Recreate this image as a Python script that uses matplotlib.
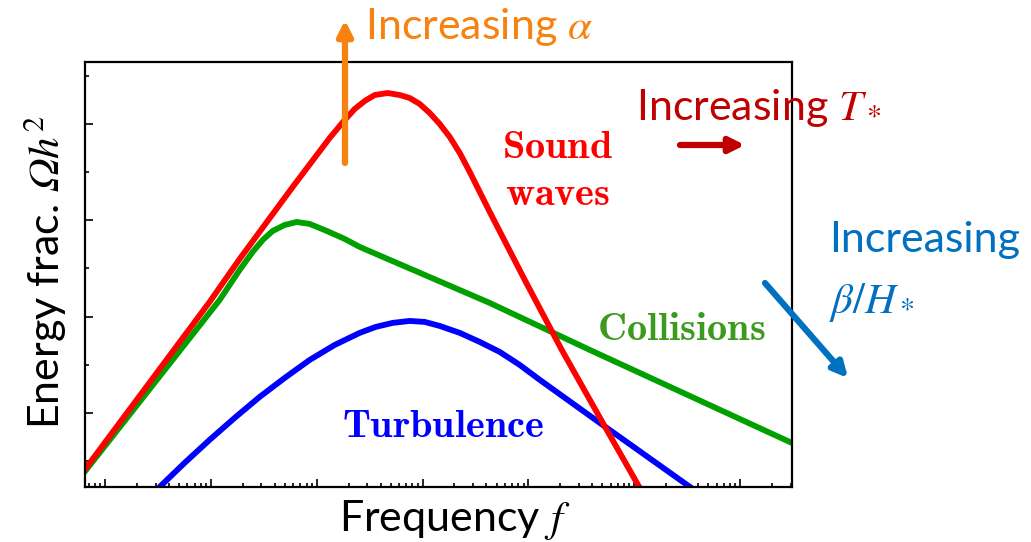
import numpy as np
import matplotlib
matplotlib.use("Agg")
import matplotlib.pyplot as plt
from matplotlib.patches import FancyArrowPatch

plt.rcParams['mathtext.fontset'] = 'cm'

# frequency (log axis, arbitrary units) and log10 of energy fraction
f_sound = [0.640, 9.72, 18.67, 59.2, 132.4, 183.5, 228.1, 283.7, 352.6, 468.0, 607.6, 755.2, 938.9,
           1167, 1451, 1804, 2243, 2787, 3465, 4308, 9226, 20640, 50390, 125700]
y_sound = [-0.592, 1.153, 1.599, 2.347, 2.856, 3.043, 3.157, 3.240, 3.302, 3.323, 3.302, 3.271, 3.209,
           3.115, 3.001, 2.866, 2.700, 2.503, 2.295, 2.087, 1.381, 0.654, -0.104, -0.872]

f_coll = [0.640, 12.08, 18.67, 24.79, 30.81, 38.31, 49.73, 64.57, 85.70, 124.1, 183.5, 254.4,
          4308, 37960, 3.08e6]
y_coll = [-0.613, 1.173, 1.485, 1.672, 1.796, 1.890, 1.952, 1.983, 1.963, 1.890, 1.807, 1.724,
          1.142, 0.654, -0.312]

f_turb = [2.937, 5.642, 9.72, 16.75, 28.86, 49.73, 85.70, 147.7, 254.4, 360.4, 521.9, 755.2, 1047,
          1451, 2243, 3465, 5355, 8277, 12790, 47200, 389900]
y_turb = [-0.820, -0.519, -0.280, -0.052, 0.166, 0.363, 0.550, 0.706, 0.831, 0.893, 0.935, 0.955, 0.945,
          0.903, 0.831, 0.737, 0.633, 0.498, 0.343, -0.104, -0.820]

W, H = 1031, 542
fig = plt.figure(figsize=(W / 100, H / 100), dpi=100)
ax = fig.add_axes([85 / W, 1 - 487 / H, (792 - 85) / W, (487 - 62) / H])

ax.plot(f_coll, y_coll, color='#00a000', lw=4.2, solid_joinstyle='round')
ax.plot(f_turb, y_turb, color='#0000ff', lw=4.2, solid_joinstyle='round')
ax.plot(f_sound, y_sound, color='#ff0000', lw=4.2, solid_joinstyle='round')

ax.set_xscale('log')
ax.set_xticks([10.0 ** k for k in range(0, 7)])
ax.set_xticks([m * 10.0 ** k for k in range(-1, 7) for m in range(2, 10)], minor=True)
ax.set_yticks([0, 1, 2, 3])
ax.set_yticks([-0.5, 0.5, 1.5, 2.5, 3.5], minor=True)
ax.set_xticklabels([])
ax.set_xticklabels([], minor=True)
ax.set_yticklabels([])
ax.tick_params(which='both', direction='in', color='black', width=1.2)
ax.tick_params(which='major', length=6)
ax.tick_params(which='minor', length=3)
ax.set_xlim(10 ** -0.19, 10 ** 6.49)
ax.set_ylim(-0.77, 3.645)
for s in ax.spines.values():
    s.set_linewidth(1.6)

# curve labels
lab = dict(transform=ax.transAxes, fontsize=29, ha='center', va='center')
ax.text(0.669, 0.80, r'$\mathbf{Sound}$', color='#ff0000', **lab)
ax.text(0.669, 0.690, r'$\mathbf{waves}$', color='#ff0000', **lab)
ax.text(0.844, 0.372, r'$\mathbf{Collisions}$', color='#3c9a1e', **lab)
ax.text(0.506, 0.143, r'$\mathbf{Turbulence}$', color='#0000ff', **lab)


def fp(px, py):
    return (px / W, 1 - py / H)


ann = dict(family='Lato', fontsize=31, math_fontfamily='stix')
fig.text(*fp(365, 27), r'Increasing $\alpha$', color='#f7820f', ha='left', va='center', **ann)
fig.text(*fp(636, 108), r'Increasing $T_*$', color='#c00000', ha='left', va='center', **ann)
fig.text(*fp(829, 240), 'Increasing', color='#0070c0', ha='left', va='center', **ann)
fig.text(*fp(829, 302), r'$\beta/H_*$', color='#0070c0', ha='left', va='center', **ann)

arrow = dict(arrowstyle='-|>', lw=4.5, mutation_scale=22, shrinkA=0, shrinkB=0,
             transform=fig.transFigure)
fig.add_artist(FancyArrowPatch(fp(345, 163), fp(345, 20), color='#f7820f', **arrow))
fig.add_artist(FancyArrowPatch(fp(680, 145), fp(745, 145), color='#c00000', **arrow))
fig.add_artist(FancyArrowPatch(fp(765, 283), fp(848, 378), color='#0070c0', **arrow))

fig.text(*fp(45, 272), 'Energy frac. $\U0001D6FA h^2$', rotation=90, color='black',
         ha='center', va='center', **ann)
fig.text(*fp(455, 520), r'Frequency $f$', color='black', ha='center', va='center', **ann)

fig.savefig('out.png', dpi=100)
